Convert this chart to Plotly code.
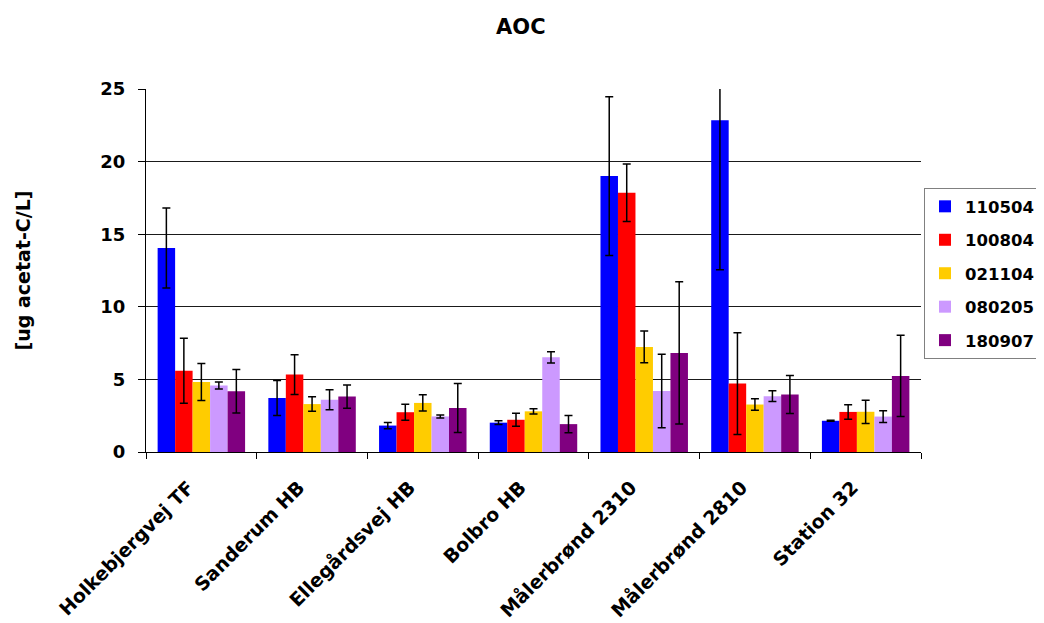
import plotly.graph_objects as go

categories = ["Holkebjergvej TF", "Sanderum HB", "Ellegårdsvej HB", "Bolbro HB",
              "Målerbrønd 2310", "Målerbrønd 2810", "Station 32"]
series_names = ["110504", "100804", "021104", "080205", "180907"]
colors = ["#0000FF", "#FF0000", "#FFCC00", "#CC99FF", "#800080"]
y_ticks = [0, 5, 10, 15, 20, 25]

v_110504 = [14.05, 3.72, 1.82, 2.02, 19.0, 22.85, 2.15]
e_110504 = [2.75, 1.2, 0.22, 0.13, 5.47, 10.3, 0.03]
v_100804 = [5.6, 5.33, 2.74, 2.22, 17.85, 4.71, 2.76]
e_100804 = [2.24, 1.37, 0.55, 0.45, 1.98, 3.5, 0.5]
v_021104 = [4.82, 3.3, 3.38, 2.8, 7.24, 3.27, 2.77]
e_021104 = [1.28, 0.5, 0.56, 0.18, 1.1, 0.4, 0.8]
v_080205 = [4.58, 3.6, 2.45, 6.52, 4.2, 3.84, 2.44]
e_080205 = [0.24, 0.69, 0.1, 0.39, 2.53, 0.37, 0.4]
v_180907 = [4.18, 3.82, 3.03, 1.92, 6.82, 3.96, 5.24]
e_180907 = [1.5, 0.8, 1.69, 0.6, 4.9, 1.3, 2.8]

values = [v_110504, v_100804, v_021104, v_080205, v_180907]
errors = [e_110504, e_100804, e_021104, e_080205, e_180907]

FONT = "DejaVu Sans, Verdana, sans-serif"

def bf(size):
    return dict(family=FONT, size=size, color="black", weight="bold")

fig = go.Figure()
for name, col, v, e in zip(series_names, colors, values, errors):
    fig.add_trace(go.Bar(
        x=categories, y=v, name=name, legendgroup=name,
        marker=dict(color=col, line=dict(width=0)),
        error_y=dict(type="data", array=e, visible=True, color="black",
                     thickness=1.5, width=4),
    ))

# page body has an 8px margin: figure is sized/offset to compensate
fig.update_layout(
    width=1036, height=615,
    paper_bgcolor="white", plot_bgcolor="white",
    barmode="group", bargap=0.21, bargroupgap=0,
    margin=dict(l=138, r=123, t=81, b=171, autoexpand=False),
    font=bf(17),
    title=dict(text="AOC", x=0.495, xanchor="center", y=0.969, yanchor="middle",
               font=bf(21)),
    showlegend=True,
    legend=dict(x=1.0039, xanchor="left", y=0.727, yanchor="top",
                bordercolor="#808080", borderwidth=1, bgcolor="white",
                font=bf(16.5), itemwidth=30, tracegroupgap=9,
                traceorder="grouped"),
    xaxis=dict(
        showline=True, linecolor="black", linewidth=1,
        ticks="outside", tickson="boundaries", ticklen=6, tickcolor="black",
        tickangle=-45, showgrid=False,
        ticklabelstandoff=16, ticklabelshift=-13,
        tickfont=bf(19),
    ),
    yaxis=dict(
        range=[0, 25], tickvals=y_ticks,
        showline=True, linecolor="black", linewidth=1,
        ticks="outside", ticklen=7, tickcolor="black",
        ticklabelstandoff=9,
        showgrid=True, gridcolor="#1a1a1a", gridwidth=1,
        zeroline=False,
        tickfont=bf(18),
    ),
    annotations=[dict(
        text="[ug acetat-C/L]", textangle=-90,
        xref="paper", yref="paper", x=-0.16, y=0.5,
        xanchor="center", yanchor="middle", showarrow=False,
        font=bf(19),
    )],
)

fig.write_html("out.html")
